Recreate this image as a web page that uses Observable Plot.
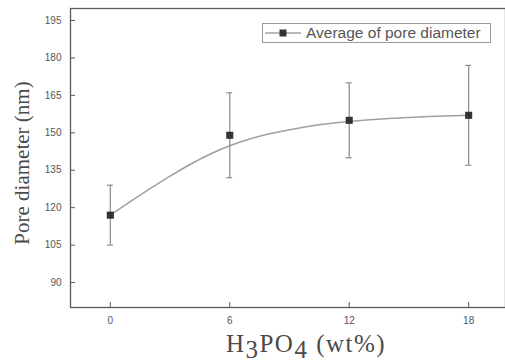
<!DOCTYPE html>
<html>
<head>
<meta charset="utf-8">
<script src="https://cdn.jsdelivr.net/npm/d3@7"></script>
<script src="https://cdn.jsdelivr.net/npm/@observablehq/plot@0.6"></script>
<style>
  html, body { margin: 0; padding: 0; background: #fff; }
  #wrap { position: relative; width: 505px; height: 363px; overflow: hidden; }
  #legend {
    position: absolute; left: 262px; top: 23px; width: 227px; height: 18px;
    border: 1px solid #9a9a9a; background: #fff;
    font-family: "Liberation Sans", Arial, sans-serif; font-size: 15.5px; color: #555;
    display: flex; align-items: center; white-space: nowrap;
  }
  #legend svg { margin-left: 2px; margin-right: 5px; }
</style>
</head>
<body>
<div id="wrap"></div>
<script>
// ---- data ----
const xValues = [0, 6, 12, 18];
const meanValues = [117, 149, 155, 157];
const errLow = [105, 132, 140, 137];
const errHigh = [129, 166, 170, 177];
// smooth fitted curve
const curveX = [0, 1, 2, 3, 4, 5, 6, 7, 8, 9, 10, 11, 12, 14, 16, 18];
const curveY = [117, 122.4, 127.6, 132.6, 137.3, 141.4, 144.8, 147.5, 149.6, 151.2, 152.6, 153.7, 154.5, 155.7, 156.5, 157];
const yTicks = [90, 105, 120, 135, 150, 165, 180, 195];
const xTicks = [0, 6, 12, 18];
const seriesName = "Average of pore diameter";
const xTitle = "H3PO4 (wt%)";
const yTitle = "Pore diameter (nm)";

const points = xValues.map((x, i) => ({x, mean: meanValues[i], lo: errLow[i], hi: errHigh[i]}));
const curve = curveX.map((x, i) => ({x, y: curveY[i]}));

const axisColor = "#5a5a5a";
const W = 505, H = 363, mL = 70, mT = 8, mR = 0, mB = 56;
const plotW = W - mL - mR, plotH = H - mT - mB;

const chart = Plot.plot({
  width: W, height: H,
  marginLeft: mL, marginTop: mT, marginRight: mR, marginBottom: mB,
  x: {domain: [-2, 19.85]},
  y: {domain: [80, 199.8]},
  style: {background: "#fff", fontFamily: "'Liberation Sans', Arial, sans-serif", color: "#555"},
  marks: [
    Plot.frame({stroke: axisColor, strokeWidth: 1.3}),
    Plot.tickY(yTicks, {y: d => d, insetRight: plotW - 5, stroke: axisColor}),
    Plot.tickX(xTicks, {x: d => d, insetTop: plotH - 5, stroke: axisColor}),
    Plot.axisY({ticks: yTicks, tickSize: 0, tickPadding: 9, fontSize: 10, label: null}),
    Plot.axisX({ticks: xTicks, tickSize: 0, tickPadding: 9, fontSize: 10, label: null}),
    Plot.line(curve, {x: "x", y: "y", curve: "natural", stroke: "#a0a0a0", strokeWidth: 1.5}),
    Plot.ruleX(points, {x: "x", y1: "lo", y2: "hi", stroke: "#8a8a8a", strokeWidth: 1.2}),
    Plot.ruleY(points, {y: "lo", x1: d => d.x - 0.15, x2: d => d.x + 0.15, stroke: "#8a8a8a", strokeWidth: 1.2}),
    Plot.ruleY(points, {y: "hi", x1: d => d.x - 0.15, x2: d => d.x + 0.15, stroke: "#8a8a8a", strokeWidth: 1.2}),
    Plot.dot(points, {x: "x", y: "mean", symbol: "square", fill: "#333", stroke: "none", r: 4}),
    Plot.text([yTitle], {frameAnchor: "left", dx: -48, dy: 5, rotate: -90, textAnchor: "middle", lineAnchor: "middle",
      fontSize: 21, fontFamily: "'Liberation Serif', 'Times New Roman', serif", fill: "#4a4a4a"}),
    Plot.text([xTitle], {frameAnchor: "bottom", dx: 18, dy: 36, textAnchor: "middle", lineAnchor: "middle",
      fontSize: 25, fontFamily: "'Liberation Serif', 'Times New Roman', serif", fill: "#4a4a4a"})
  ]
});

document.getElementById("wrap").appendChild(chart);

// subscripts for H3PO4
d3.select(chart).selectAll("text").filter(function() { return this.textContent === xTitle; }).each(function() {
  const t = d3.select(this);
  t.text(null).style("letter-spacing", "1.5px");
  const parts = [["H", 0], ["3", 6], ["PO", -6], ["4", 6], [" (wt%)", -6]];
  for (const [s, dy] of parts) t.append("tspan").attr("dy", dy).text(s);
});

// legend
const legend = document.createElement("div");
legend.id = "legend";
legend.innerHTML = `<svg width="36" height="10"><line x1="0" y1="5" x2="36" y2="5" stroke="#a0a0a0" stroke-width="1.5"/><rect x="14.5" y="1.5" width="7" height="7" fill="#333"/></svg><span>${seriesName}</span>`;
document.getElementById("wrap").appendChild(legend);
</script>
</body>
</html>
